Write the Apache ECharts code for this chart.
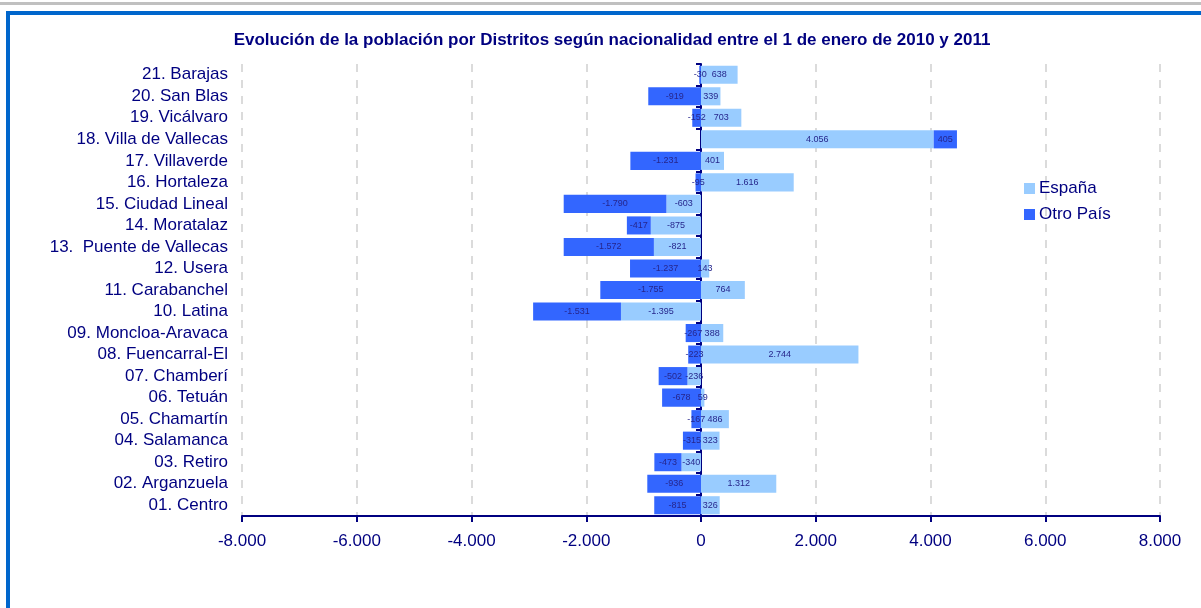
<!DOCTYPE html>
<html>
<head>
<meta charset="utf-8">
<script src="https://cdn.jsdelivr.net/npm/echarts@6/dist/echarts.min.js"></script>
<style>
html,body{margin:0;padding:0;background:#fff;}
#wrap{position:relative;width:1201px;height:608px;overflow:hidden;}
#chart{position:absolute;left:0;top:0;width:1201px;height:608px;}
#grey{position:absolute;left:0;top:2px;width:1201px;height:3px;background:#c0c0c0;}
#btop{position:absolute;left:6px;top:11px;width:1195px;height:4px;background:#0066cc;}
#bleft{position:absolute;left:6px;top:11px;width:4px;height:597px;background:#0066cc;}
</style>
</head>
<body>
<div id="wrap">
<div id="chart"></div>
<div id="grey"></div>
<div id="btop"></div>
<div id="bleft"></div>
</div>
<script>
const categories = [
  "01. Centro", "02. Arganzuela", "03. Retiro", "04. Salamanca", "05. Chamartín",
  "06. Tetuán", "07. Chamberí", "08. Fuencarral-El", "09. Moncloa-Aravaca", "10. Latina",
  "11. Carabanchel", "12. Usera", "13.  Puente de Vallecas", "14. Moratalaz", "15. Ciudad Lineal",
  "16. Hortaleza", "17. Villaverde", "18. Villa de Vallecas", "19. Vicálvaro", "20. San Blas",
  "21. Barajas"
];
const espana = [326, 1312, -340, 323, 486, 59, -236, 2744, 388, -1395, 764, 143, -821, -875, -603, 1616, 401, 4056, 703, 339, 638];
const otroPais = [-815, -936, -473, -315, -167, -678, -502, -223, -267, -1531, -1755, -1237, -1572, -417, -1790, -95, -1231, 405, -152, -919, -30];
const xTicks = [-8000, -6000, -4000, -2000, 0, 2000, 4000, 6000, 8000];

function fmt(v) {
  const neg = v < 0;
  let s = String(Math.abs(Math.round(v)));
  s = s.replace(/\B(?=(\d{3})+(?!\d))/g, ".");
  return (neg ? "-" : "") + s;
}

const navy = "#000080";
const FF = "Liberation Sans, Arial, sans-serif";
const chart = echarts.init(document.getElementById("chart"));
const labelStyle = {
  show: true,
  position: "inside",
  fontSize: 9,
  fontFamily: FF,
  color: "#26268c",
  formatter: p => fmt(p.value)
};
chart.setOption({
  animation: false,
  textStyle: { fontFamily: FF },
  title: {
    text: "Evolución de la población por Distritos según nacionalidad entre el 1 de enero de 2010 y 2011",
    left: 607,
    textAlign: "center",
    top: 27,
    textStyle: { fontSize: 17, fontWeight: "bold", color: navy, fontFamily: FF }
  },
  legend: {
    orient: "vertical",
    left: 1019,
    top: 175,
    itemWidth: 11,
    itemHeight: 11,
    itemGap: 9,
    icon: "rect",
    textStyle: { fontSize: 17, color: navy, padding: [0, 0, 0, -1] },
    data: ["España", "Otro País"]
  },
  grid: { left: 242, right: 41, top: 64, bottom: 92, containLabel: false },
  xAxis: {
    type: "value",
    min: xTicks[0],
    max: xTicks[xTicks.length - 1],
    interval: 2000,
    axisLine: { show: true, onZero: false, lineStyle: { color: navy, width: 2 } },
    axisTick: { show: true, length: 6, lineStyle: { color: navy, width: 2 } },
    axisLabel: { fontSize: 17, color: navy, margin: 17, formatter: v => fmt(v) },
    splitLine: { show: true, lineStyle: { color: "#cfcfcf", type: [8, 8], width: 1.5 } }
  },
  yAxis: [
    {
      type: "category",
      data: categories,
      axisLine: { show: false, onZero: false },
      axisTick: { show: false },
      axisLabel: { fontSize: 17, color: navy, margin: 14, interval: 0 },
      splitLine: { show: false }
    },
    {
      type: "category",
      data: categories,
      position: "left",
      axisLine: { show: true, onZero: true, onZeroAxisIndex: 0, lineStyle: { color: navy, width: 2 } },
      axisTick: { show: true, length: 5, interval: 0, lineStyle: { color: navy, width: 2 } },
      axisLabel: { show: false },
      splitLine: { show: false }
    }
  ],
  series: [
    {
      name: "España",
      type: "bar",
      stack: "total",
      yAxisIndex: 0,
      data: espana,
      barCategoryGap: "16%",
      itemStyle: { color: "#99ccff" },
      label: labelStyle
    },
    {
      name: "Otro País",
      type: "bar",
      stack: "total",
      yAxisIndex: 0,
      data: otroPais,
      barCategoryGap: "16%",
      itemStyle: { color: "#3366ff" },
      label: labelStyle
    }
  ]
});
</script>
</body>
</html>
